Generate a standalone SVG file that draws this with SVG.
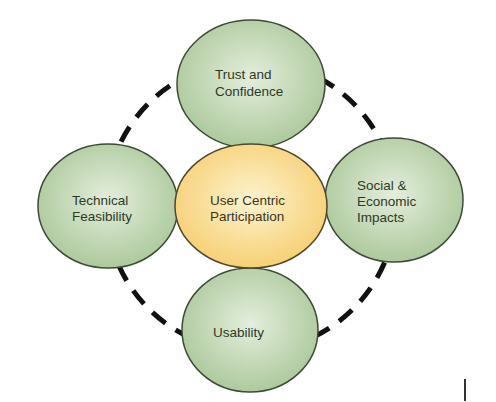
<svg xmlns="http://www.w3.org/2000/svg" width="496" height="402" viewBox="0 0 496 402">
<style>
.g{fill:url(#gg);stroke:#3d4a36;stroke-width:1.5}
.y{fill:url(#yg);stroke:#4f4630;stroke-width:1.5}
.t{font-family:"Liberation Sans",Arial,sans-serif;font-size:13.5px;fill:#2c3a25}
.ty{fill:#3b3420}
</style>
<defs>
<radialGradient id="gg" cx="0.5" cy="0.45" r="0.6">
<stop offset="0" stop-color="#e4eedc"/>
<stop offset="1" stop-color="#a8c697"/>
</radialGradient>
<radialGradient id="yg" cx="0.5" cy="0.45" r="0.6">
<stop offset="0" stop-color="#fdf3d0"/>
<stop offset="1" stop-color="#f6cd6c"/>
</radialGradient>
</defs>
<rect width="496" height="402" fill="#ffffff"/>
<g id="connectors">
<circle cx="251" cy="206" r="145" fill="none" stroke="#111" stroke-width="5" stroke-dasharray="17 12"/>
</g>
<g id="trust">
<ellipse class="g" cx="251" cy="84" rx="74" ry="64"/>
<text class="t" x="215" y="79">Trust and</text>
<text class="t" x="215" y="96">Confidence</text>
</g>
<g id="technical">
<ellipse class="g" cx="108" cy="206" rx="70" ry="62"/>
<text class="t" x="72" y="205">Technical</text>
<text class="t" x="72" y="221">Feasibility</text>
</g>
<g id="social">
<ellipse class="g" cx="394" cy="200" rx="69" ry="62"/>
<text class="t" x="357" y="190">Social &amp;</text>
<text class="t" x="357" y="206">Economic</text>
<text class="t" x="357" y="222">Impacts</text>
</g>
<g id="usability">
<ellipse class="g" cx="250" cy="330" rx="68" ry="62"/>
<text class="t" x="213" y="337">Usability</text>
</g>
<g id="user">
<ellipse class="y" cx="251" cy="206" rx="76" ry="62"/>
<text class="t ty" x="210" y="205">User Centric</text>
<text class="t ty" x="210" y="221">Participation</text>
</g>
<rect x="464" y="379" width="2" height="22" fill="#333"/>
</svg>
